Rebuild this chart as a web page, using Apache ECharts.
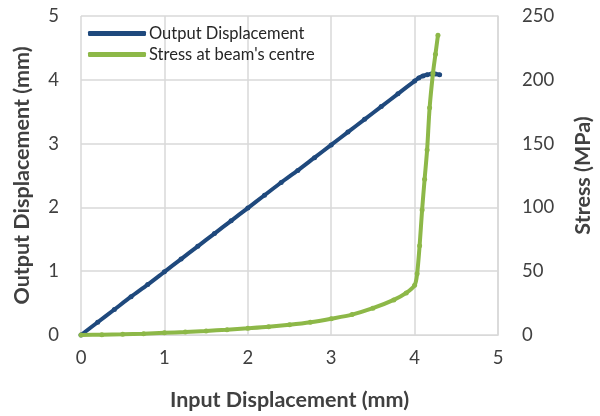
<!DOCTYPE html>
<html>
<head>
<meta charset="utf-8">
<script src="https://cdn.jsdelivr.net/npm/echarts@6/dist/echarts.min.js"></script>
<style>
  html, body { margin: 0; padding: 0; background: #fff; }
  #chart { width: 600px; height: 416px; }
</style>
</head>
<body>
<div id="chart"></div>
<script>
// Input displacement (mm) and output displacement (mm)
const dispInput  = [0, 0.2, 0.4, 0.6, 0.8, 1.0, 1.2, 1.4, 1.6, 1.8, 2.0, 2.2, 2.4, 2.6, 2.8, 3.0, 3.2, 3.4, 3.6, 3.8, 4.0, 4.05, 4.1, 4.15, 4.2, 4.25, 4.3];
const dispOutput = [0, 0.2, 0.4, 0.6, 0.79, 0.99, 1.19, 1.39, 1.59, 1.79, 1.99, 2.19, 2.39, 2.58, 2.78, 2.98, 3.18, 3.38, 3.58, 3.78, 3.98, 4.03, 4.06, 4.08, 4.09, 4.09, 4.08];

// Input displacement (mm) and stress at beam's centre (MPa)
const stressInput = [0, 0.25, 0.5, 0.75, 1.0, 1.25, 1.5, 1.75, 2.0, 2.25, 2.5, 2.75, 3.0, 3.25, 3.5, 3.75, 3.9, 4.0, 4.03, 4.06, 4.09, 4.12, 4.15, 4.18, 4.22, 4.25, 4.28];
const stressValue = [0, 0.2, 0.5, 1.0, 1.7, 2.4, 3.2, 4.1, 5.2, 6.4, 8.0, 10.0, 12.8, 16.0, 21.0, 27.5, 33.0, 39.0, 48.0, 70.0, 98.0, 122.0, 145.0, 178.0, 205.0, 220.0, 235.0];

const xTicks = [0, 1, 2, 3, 4, 5];
const leftTicks = [0, 1, 2, 3, 4, 5];
const rightTicks = [0, 50, 100, 150, 200, 250];

const FONT = 'Lato';
const BLUE = '#1f497d';
const GREEN = '#8db848';
const GRID = '#d9d9d9';
const TEXT = '#404040';

const pairs = (xs, ys) => xs.map((x, i) => [x, ys[i]]);

const chart = echarts.init(document.getElementById('chart'), null, { renderer: 'canvas' });
chart.setOption({
  animation: false,
  backgroundColor: '#fff',
  textStyle: { fontFamily: FONT },
  grid: { left: 81, right: 102, top: 16, bottom: 81, containLabel: false, outerBoundsMode: 'none' },
  legend: {
    orient: 'vertical',
    left: 83, top: 20,
    itemWidth: 58, itemHeight: 5, itemGap: 4,
    icon: 'roundRect',
    textStyle: { fontFamily: FONT, fontSize: 16.5, color: '#262626', padding: [0, 0, 0, -2] },
    data: ['Output Displacement', "Stress at beam's centre"]
  },
  xAxis: {
    type: 'value',
    min: xTicks[0], max: xTicks[xTicks.length - 1], interval: 1,
    name: 'Input Displacement (mm)',
    nameLocation: 'middle', nameGap: 54,
    nameTextStyle: { fontFamily: FONT, fontSize: 21.5, fontWeight: 'bold', color: TEXT },
    axisLine: { show: true, lineStyle: { color: GRID, width: 1 } },
    axisTick: { show: false },
    axisLabel: { fontFamily: FONT, fontSize: 18.5, color: TEXT, margin: 14 },
    splitLine: { show: true, lineStyle: { color: GRID, width: 1.5 } }
  },
  yAxis: [
    {
      type: 'value',
      min: leftTicks[0], max: leftTicks[leftTicks.length - 1], interval: 1,
      name: 'Output Displacement (mm)',
      nameLocation: 'middle', nameGap: 48, nameRotate: 90,
      nameTextStyle: { fontFamily: FONT, fontSize: 21.5, fontWeight: 'bold', color: TEXT },
      axisLine: { show: false },
      axisTick: { show: false },
      axisLabel: { fontFamily: FONT, fontSize: 18.5, color: TEXT, margin: 22 },
      splitLine: { show: true, lineStyle: { color: GRID, width: 1.5 } }
    },
    {
      type: 'value',
      position: 'right',
      min: rightTicks[0], max: rightTicks[rightTicks.length - 1], interval: 50,
      name: 'Stress (MPa)',
      nameLocation: 'middle', nameGap: 74, nameRotate: 90,
      nameTextStyle: { fontFamily: FONT, fontSize: 21.5, fontWeight: 'bold', color: TEXT },
      axisLine: { show: true, lineStyle: { color: GRID, width: 1.5 } },
      axisTick: { show: false },
      axisLabel: { fontFamily: FONT, fontSize: 18.5, color: TEXT, margin: 24 },
      splitLine: { show: false }
    }
  ],
  series: [
    {
      name: 'Output Displacement',
      type: 'line',
      yAxisIndex: 0,
      data: pairs(dispInput, dispOutput),
      smooth: 0.3,
      symbol: 'circle', symbolSize: 5,
      itemStyle: { color: BLUE },
      lineStyle: { color: BLUE, width: 4, cap: 'round' },
      z: 3
    },
    {
      name: "Stress at beam's centre",
      type: 'line',
      yAxisIndex: 1,
      data: pairs(stressInput, stressValue),
      smooth: 0.3,
      symbol: 'circle', symbolSize: 5,
      itemStyle: { color: GREEN },
      lineStyle: { color: GREEN, width: 4, cap: 'round' },
      z: 4
    }
  ]
});
</script>
</body>
</html>
